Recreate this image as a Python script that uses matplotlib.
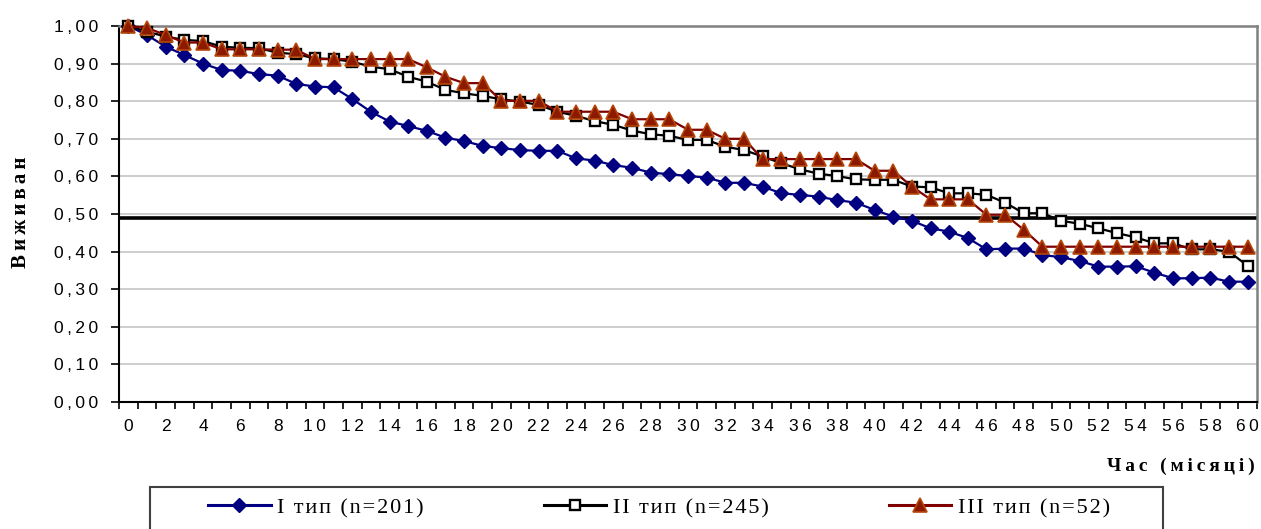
import matplotlib.pyplot as plt
from matplotlib.patches import Rectangle

# survival data (monthly, 0..60)
months = list(range(61))

type1 = [1.00, 0.976, 0.945, 0.923, 0.900, 0.883, 0.881, 0.872, 0.868, 0.846,
         0.839, 0.837, 0.806, 0.772, 0.746, 0.734, 0.721, 0.703, 0.694, 0.681,
         0.675, 0.670, 0.668, 0.668, 0.648, 0.642, 0.630, 0.623, 0.610, 0.606,
         0.601, 0.597, 0.583, 0.583, 0.573, 0.555, 0.551, 0.546, 0.537, 0.530,
         0.511, 0.493, 0.482, 0.462, 0.453, 0.436, 0.406, 0.408, 0.408, 0.391,
         0.385, 0.375, 0.360, 0.360, 0.361, 0.344, 0.329, 0.329, 0.331, 0.320,
         0.320]

type2 = [1.00, 0.985, 0.972, 0.963, 0.960, 0.945, 0.942, 0.941, 0.929, 0.925,
         0.914, 0.912, 0.905, 0.892, 0.885, 0.865, 0.852, 0.830, 0.821, 0.814,
         0.805, 0.799, 0.790, 0.772, 0.761, 0.747, 0.737, 0.722, 0.712, 0.708,
         0.697, 0.697, 0.679, 0.670, 0.653, 0.635, 0.619, 0.607, 0.601, 0.592,
         0.591, 0.591, 0.573, 0.571, 0.555, 0.555, 0.551, 0.530, 0.502, 0.502,
         0.482, 0.474, 0.462, 0.449, 0.438, 0.422, 0.422, 0.406, 0.406, 0.400,
         0.362]

type3 = [1.00, 0.995, 0.976, 0.956, 0.956, 0.938, 0.938, 0.938, 0.937, 0.937,
         0.912, 0.912, 0.912, 0.912, 0.912, 0.912, 0.890, 0.865, 0.848, 0.848,
         0.801, 0.801, 0.801, 0.772, 0.772, 0.772, 0.772, 0.752, 0.752, 0.752,
         0.724, 0.724, 0.700, 0.700, 0.646, 0.646, 0.646, 0.646, 0.646, 0.646,
         0.615, 0.615, 0.573, 0.539, 0.539, 0.539, 0.498, 0.498, 0.458, 0.413,
         0.413, 0.413, 0.413, 0.413, 0.413, 0.413, 0.413, 0.413, 0.413, 0.413,
         0.413]

median_level = 0.49

labels = ["I тип (n=201)", "II тип (n=245)", "III тип (n=52)"]
y_ticks = [0.0, 0.1, 0.2, 0.3, 0.4, 0.5, 0.6, 0.7, 0.8, 0.9, 1.0]
y_ticklabels = ["0,00", "0,10", "0,20", "0,30", "0,40", "0,50",
                "0,60", "0,70", "0,80", "0,90", "1,00"]
x_ticks = list(range(0, 61, 2))


def spaced(s, gap="\u2009"):
    # the original (Excel) rendering has wide letter spacing
    return gap.join(s)


W, H = 1261, 529
fig = plt.figure(figsize=(W / 100, H / 100), dpi=100)
ax = fig.add_axes([119 / W, 1 - 402 / H, (1257 - 119) / W, (402 - 26) / H])

ax.set_xlim(-0.5, 60.5)
ax.set_ylim(0, 1)

# grid
ax.set_yticks(y_ticks)
ax.set_yticklabels([spaced(t) for t in y_ticklabels])
ax.yaxis.grid(True, color="#c0c0c0", lw=1.1)
ax.set_axisbelow(True)

ax.axhline(median_level, color="black", lw=2.6, zorder=2)

l1, = ax.plot(months, type1, color="#000080", lw=1.6, marker="D", ms=7.5,
              mfc="#000080", mec="#000080", clip_on=False, zorder=3)
l2, = ax.plot(months, type2, color="black", lw=1.6, marker="s", ms=7,
              mfc="white", mec="black", mew=1.7, clip_on=False, zorder=4)
l3, = ax.plot(months, type3, color="#800000", lw=1.6, marker="^", ms=9.5,
              mfc="#8B1A00", mec="#B5470B", mew=1.2, clip_on=False, zorder=5)

# axes frame
for s in ["left", "bottom"]:
    ax.spines[s].set_color("black")
    ax.spines[s].set_linewidth(1.5)
for s in ["top", "right"]:
    ax.spines[s].set_color("#808080")
    ax.spines[s].set_linewidth(1.8)

ax.set_xticks(x_ticks)
ax.set_xticklabels([spaced(str(m)) for m in x_ticks])
ax.set_xticks([m - 0.5 for m in months] + [60.5], minor=True)
ax.tick_params(axis="x", which="major", length=0, pad=12)
ax.tick_params(axis="x", which="minor", length=5, width=1.2, direction="out")
ax.tick_params(axis="y", length=6, width=1.2, direction="out", pad=9)
for t in ax.get_xticklabels() + ax.get_yticklabels():
    t.set_fontfamily(["Liberation Sans", "DejaVu Sans"])
    t.set_fontsize(12.5)

# axis titles
fig.text(21 / W, 1 - 212 / H, spaced("Виживан"), rotation=90, ha="center",
         va="center", fontsize=15, fontweight="bold",
         family=["Liberation Serif", "DejaVu Serif"])
fig.text(1255 / W, 1 - 466 / H, spaced("Час (місяці)"), ha="right",
         va="center", fontsize=14, fontweight="bold",
         family=["Liberation Serif", "DejaVu Serif"])

# legend with a frame that runs off the bottom edge
fig.patches.append(Rectangle((150 / W, -0.2), (1163 - 150) / W, 0.2 + (529 - 487) / H,
                             transform=fig.transFigure, fill=False,
                             edgecolor="#404040", lw=1.5))
leg = fig.legend([l1, l2, l3], [spaced(l, "\u200a") for l in labels],
                 loc="center", ncol=3,
                 bbox_to_anchor=(659 / W, 1 - 508 / H), frameon=False,
                 prop={"family": ["Liberation Serif", "DejaVu Serif"], "size": 16},
                 handlelength=2.8, handletextpad=0.3, columnspacing=5.4)
for h in leg.legend_handles:
    h.set_linewidth(2.2)

fig.savefig("out.png", dpi=100)
